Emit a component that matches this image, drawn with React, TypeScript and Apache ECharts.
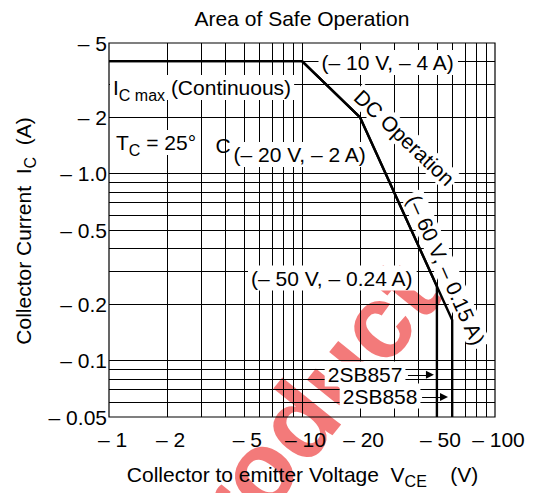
import React, { useEffect, useRef } from 'react';
import * as echarts from 'echarts';

const FONT = '"Liberation Sans", Arial, Helvetica, sans-serif';

// Axis ticks and labels
const voltageTicks = [1, 2, 5, 10, 20, 50, 100];
const voltageTickLabels = ['– 1', '– 2', '– 5', '– 10', '– 20', '– 50', '– 100'];
const currentTicks = [0.05, 0.1, 0.2, 0.5, 1, 2, 5];
const currentTickLabels = ['– 0.05', '– 0.1', '– 0.2', '– 0.5', '– 1.0', '– 2', '– 5'];

// Log grid lines
const voltageGrid = [2, 3, 4, 5, 6, 7, 8, 9, 10, 20, 30, 40, 50, 60, 70, 80, 90];
const currentGrid = [0.06, 0.07, 0.08, 0.09, 0.1, 0.2, 0.3, 0.4, 0.5, 0.6, 0.7, 0.8, 0.9, 1, 2, 3, 4];

// Safe operating area boundaries (V, A)
const sb857Voltage = [1, 10, 20, 50, 50];
const sb857Current = [4, 4, 2, 0.25, 0.05];
const sb858Voltage = [1, 10, 20, 60, 60];
const sb858Current = [4, 4, 2, 0.165, 0.05];

// Pointer arrows (V from, V to, A)
const arrow857 = [35.4, 46, 0.084];
const arrow858 = [41.9, 54.4, 0.064];

const pick = (vals: number[], labels: string[], v: number) => {
  let best = 0;
  for (let i = 0; i < vals.length; i++) {
    if (Math.abs(Math.log(vals[i]) - Math.log(v)) < Math.abs(Math.log(vals[best]) - Math.log(v))) best = i;
  }
  return labels[best];
};

const rich = {
  m: { fontSize: 21, lineHeight: 21, fontFamily: FONT, fill: '#000', verticalAlign: 'top' },
  s: { fontSize: 16, lineHeight: 16, fontFamily: FONT, fill: '#000', verticalAlign: 'top', padding: [10, 0, 0, 0] },
};

const boxText = (x: number, y: number, text: string, extra: any = {}) => {
  const pad = (extra.style && extra.style.padding) || [2, 3, 2, 3];
  return {
    type: 'text',
    x,
    y,
    z: 6,
    silent: true,
    rotation: extra.rotation || 0,
    style: {
      text,
      fill: '#000',
      fontSize: 21,
      fontFamily: FONT,
      align: 'left',
      verticalAlign: 'middle',
      backgroundColor: '#fff',
      padding: pad,
      ...(extra.style || {}),
    },
  };
};

const arrowMarkLine = (a: number[]) => ({
  silent: true,
  z: 11,
  symbol: ['none', 'triangle'],
  symbolSize: 8,
  label: { show: false },
  emphasis: { disabled: true },
  lineStyle: { color: '#000', width: 1, type: 'solid' },
  data: [[{ coord: [a[0], a[2]] }, { coord: [a[1], a[2]] }]],
});

const option: any = {
  animation: false,
  backgroundColor: '#fff',
  grid: {
    left: 109,
    top: 43,
    width: 386,
    height: 374,
    show: true,
    borderColor: '#000',
    borderWidth: 1.2,
    backgroundColor: 'transparent',
    containLabel: false,
    outerBoundsMode: 'none',
    z: 2,
  },
  xAxis: {
    type: 'log',
    logBase: 10,
    min: 1,
    max: 100,
    z: 3,
    axisLine: { show: false },
    axisTick: { show: false },
    splitLine: { show: false },
    axisLabel: {
      customValues: voltageTicks,
      formatter: (v: number) => pick(voltageTicks, voltageTickLabels, v),
      fontSize: 21,
      fontFamily: FONT,
      color: '#000',
      margin: 12,
      padding: [0, 0, 0, 7],
      showMinLabel: true,
      showMaxLabel: true,
      hideOverlap: false,
    },
  },
  yAxis: {
    type: 'log',
    logBase: 10,
    min: 0.05,
    max: 5,
    z: 3,
    axisLine: { show: false },
    axisTick: { show: false },
    splitLine: { show: false },
    axisLabel: {
      customValues: currentTicks,
      formatter: (v: number) => pick(currentTicks, currentTickLabels, v),
      fontSize: 21,
      fontFamily: FONT,
      color: '#000',
      margin: 2,
      showMinLabel: true,
      showMaxLabel: true,
      hideOverlap: false,
    },
  },
  series: [
    {
      type: 'line',
      name: 'grid',
      data: [[1, 1]],
      symbol: 'none',
      showSymbol: false,
      lineStyle: { opacity: 0 },
      silent: true,
      z: 1,
      markLine: {
        silent: true,
        z: 1,
        symbol: ['none', 'none'],
        label: { show: false },
        emphasis: { disabled: true },
        lineStyle: { color: '#000', width: 1, type: 'solid' },
        data: [
          ...voltageGrid.map((v) => ({ xAxis: v })),
          ...currentGrid.map((c) => ({ yAxis: c })),
        ],
      },
    },
    {
      type: 'line',
      name: '2SB857',
      data: sb857Voltage.map((v, i) => [v, sb857Current[i]]),
      symbol: 'none',
      showSymbol: false,
      lineStyle: { color: '#000', width: 2.4 },
      silent: true,
      z: 10,
      markLine: arrowMarkLine(arrow857),
    },
    {
      type: 'line',
      name: '2SB858',
      data: sb858Voltage.map((v, i) => [v, sb858Current[i]]),
      symbol: 'none',
      showSymbol: false,
      lineStyle: { color: '#000', width: 2.4 },
      silent: true,
      z: 10,
      markLine: arrowMarkLine(arrow858),
    },
  ],
  graphic: [
    // watermark
    {
      type: 'text',
      x: 292,
      y: 428,
      rotation: 0.89,
      z: 0,
      silent: true,
      style: {
        text: 'Product',
        fontSize: 104,
        fontWeight: 'bold',
        fontFamily: FONT,
        fill: 'rgba(236,40,40,0.62)',
        align: 'center',
        verticalAlign: 'middle',
      },
    },
    // title
    {
      type: 'text',
      x: 302,
      y: 18,
      z: 6,
      silent: true,
      style: {
        text: 'Area of Safe Operation',
        fontSize: 21,
        fontFamily: FONT,
        fill: '#000',
        align: 'center',
        verticalAlign: 'middle',
      },
    },
    // x axis name
    {
      type: 'text',
      x: 302.5,
      y: 474,
      z: 6,
      silent: true,
      style: {
        text: '{m|Collector to emitter Voltage\u00a0\u00a0V}{s|CE}{m|\u00a0\u00a0\u00a0\u00a0(V)}',
        rich,
        align: 'center',
        verticalAlign: 'middle',
      },
    },
    // y axis name
    {
      type: 'text',
      x: 23,
      y: 231,
      rotation: Math.PI / 2,
      z: 6,
      silent: true,
      style: {
        text: '{m|Collector Current\u00a0\u00a0I}{s|C}{m|\u00a0\u00a0(A)}',
        rich,
        align: 'center',
        verticalAlign: 'middle',
      },
    },
    // annotations
    boxText(110, 75, '{m|I}{s|C max}{m| (Continuous)}', {
      style: { rich, verticalAlign: 'top' },
    }),
    boxText(113, 130, '{m|T}{s|C}{m| = 25°}', {
      style: { rich, verticalAlign: 'top' },
    }),
    {
      type: 'text',
      x: 215.5,
      y: 145,
      z: 6,
      silent: true,
      style: {
        text: 'C',
        fontSize: 21,
        fontFamily: FONT,
        fill: '#000',
        align: 'left',
        verticalAlign: 'middle',
      },
    },
    boxText(318.5, 62.5, '(– 10 V, – 4 A)'),
    boxText(230.5, 154.5, '(– 20 V, – 2 A)'),
    boxText(248, 278, '(– 50 V, – 0.24 A)'),
    boxText(404.4, 137.6, 'DC Operation', {
      rotation: -0.757,
      style: { align: 'center', padding: [1, 3, 1, 3] },
    }),
    boxText(446, 270, '(– 60 V, – 0.15 A)', {
      rotation: -1.15,
      style: { align: 'center', padding: [1, 3, 1, 3] },
    }),
    boxText(324.7, 374, '2SB857'),
    boxText(339.7, 396, '2SB858'),
  ],
};

export default function App() {
  const ref = useRef<HTMLDivElement>(null);
  useEffect(() => {
    const chart = echarts.init(ref.current as HTMLDivElement, undefined, {
      renderer: 'svg',
      width: 536,
      height: 493,
    });
    chart.setOption(option);
    return () => chart.dispose();
  }, []);
  return (
    <div
      ref={ref}
      style={{ position: 'fixed', left: 0, top: 0, width: 536, height: 493, background: '#fff' }}
    />
  );
}
